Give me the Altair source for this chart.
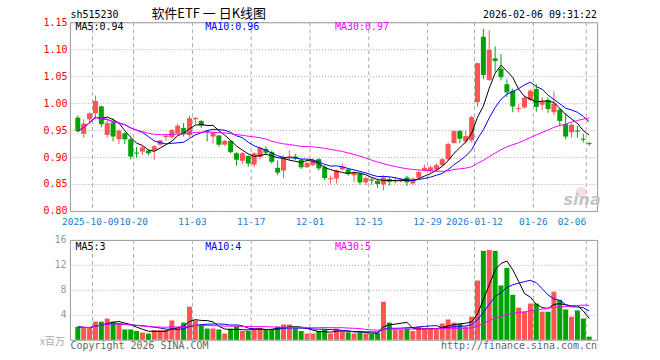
import altair as alt
import pandas as pd
import numpy as np

# ---------------- data ----------------
opens = [0.973,0.943,0.970,0.981,0.994,0.941,0.964,0.933,0.944,0.933,
 0.908,0.910,0.912,0.912,0.923,0.937,0.937,0.944,0.954,0.941,
 0.970,0.967,0.948,0.938,0.940,0.923,0.930,0.907,0.893,0.902,
 0.886,0.900,0.915,0.909,0.880,0.875,0.899,0.901,0.895,0.881,
 0.885,0.896,0.881,0.859,0.860,0.877,0.877,0.866,0.869,0.853,
 0.858,0.856,0.849,0.859,0.855,0.856,0.862,0.851,0.862,0.875,
 0.874,0.877,0.885,0.896,0.926,0.948,0.929,0.931,1.002,1.123,
 1.043,1.083,1.064,1.035,1.023,0.989,0.992,1.006,1.026,0.997,
 1.006,0.983,0.988,0.961,0.946,0.949,0.934,0.926]
highs = [0.977,0.970,0.983,1.014,0.995,0.970,0.972,0.951,0.946,0.936,
 0.919,0.920,0.914,0.922,0.932,0.941,0.952,0.962,0.963,0.977,
 0.974,0.969,0.950,0.947,0.941,0.932,0.931,0.909,0.909,0.903,
 0.909,0.919,0.920,0.912,0.894,0.903,0.912,0.906,0.897,0.891,
 0.897,0.898,0.885,0.866,0.877,0.888,0.879,0.873,0.871,0.864,
 0.862,0.858,0.866,0.863,0.863,0.861,0.865,0.862,0.875,0.886,
 0.884,0.888,0.898,0.927,0.950,0.950,0.949,0.977,1.075,1.138,
 1.135,1.105,1.091,1.044,1.027,0.998,1.014,1.026,1.036,1.011,
 1.010,1.022,0.991,0.981,0.962,0.958,0.943,0.928]
lows = [0.946,0.936,0.965,0.970,0.955,0.936,0.929,0.924,0.924,0.896,
 0.899,0.904,0.903,0.895,0.921,0.930,0.934,0.940,0.938,0.937,
 0.960,0.954,0.929,0.925,0.919,0.921,0.907,0.884,0.887,0.882,
 0.881,0.896,0.905,0.888,0.866,0.861,0.894,0.894,0.878,0.880,
 0.883,0.875,0.857,0.851,0.851,0.875,0.865,0.854,0.849,0.848,
 0.849,0.843,0.838,0.847,0.851,0.852,0.846,0.848,0.860,0.873,
 0.871,0.872,0.883,0.893,0.924,0.926,0.924,0.927,0.993,1.045,
 1.041,1.058,1.042,1.011,0.983,0.983,0.990,1.004,0.984,0.987,
 0.982,0.977,0.957,0.933,0.936,0.936,0.927,0.921]
closes = [0.948,0.962,0.981,1.004,0.961,0.963,0.938,0.949,0.933,0.901,
 0.907,0.918,0.907,0.920,0.931,0.939,0.950,0.958,0.943,0.972,
 0.972,0.958,0.947,0.945,0.923,0.930,0.909,0.895,0.907,0.888,
 0.907,0.917,0.908,0.891,0.871,0.900,0.901,0.897,0.881,0.889,
 0.894,0.879,0.861,0.860,0.875,0.882,0.869,0.871,0.853,0.861,
 0.857,0.850,0.862,0.854,0.857,0.858,0.853,0.860,0.872,0.880,
 0.881,0.885,0.896,0.924,0.948,0.934,0.939,0.974,1.074,1.052,
 1.099,1.078,1.048,1.020,0.994,0.990,1.010,1.023,0.993,1.003,
 0.989,0.999,0.967,0.938,0.960,0.948,0.933,0.925]
volumes = [2.07,1.9,1.9,2.9,2.9,3.4,2.9,2.55,1.65,1.65,
 1.4,1.15,1.0,1.55,1.55,1.55,3.1,1.9,2.75,5.3,
 3.1,2.4,1.8,1.8,1.65,1.0,1.8,2.2,1.4,1.4,
 1.8,1.9,1.65,1.65,2.1,2.45,2.45,1.8,1.4,1.0,
 1.0,1.4,1.65,1.0,1.8,1.4,1.2,1.0,1.2,1.0,
 0.95,1.1,6.1,2.75,1.65,1.65,1.8,1.4,2.1,1.8,
 1.8,1.65,2.6,3.25,2.75,2.55,2.1,3.7,9.5,14.25,
 14.4,14.25,8.7,11.5,7.2,5.15,4.5,5.8,5.8,4.5,
 4.5,7.7,6.4,4.85,3.7,4.7,3.4,0.5]

tick_index = [3, 10, 20, 30, 40, 50, 60, 68, 78, 87]
tick_labels = ["2025-10-09", "10-20", "11-03", "11-17", "12-01",
               "12-15", "12-29", "2026-01-12", "01-26", "02-06"]
price_ticks = [0.80, 0.85, 0.90, 0.95, 1.00, 1.05, 1.10, 1.15]
vol_ticks = [4, 8, 12, 16]

title_text = "软件ETF 一 日K线图"
code_text = "sh515230"
time_text = "2026-02-06 09:31:22"
price_legend = ["MA5:0.94", "MA10:0.96", "MA30:0.97"]
vol_legend = ["MA5:3", "MA10:4", "MA30:5"]

# ---------------- styles ----------------
RED = "#ff5454"
GREEN = "#00a300"
MA_COLORS = ["#000000", "#0000ff", "#ff00ff"]
DATE_COLOR = "#1a80d2"
MONO = "DejaVu Sans Mono"
CJK = "Noto Sans CJK SC"
N = len(closes)
W = 6 * N
PH = 189
VH = 100
LEFT, TOP, GAP = 69.5, 21.5, 29
RIGHT = 660 - LEFT - W
BOTTOM = 360 - TOP - PH - GAP - VH

df = pd.DataFrame({"i": np.arange(N), "open": opens, "high": highs,
                   "low": lows, "close": closes, "vol": volumes})
df["xc"] = df["i"] + 0.5
df["dir"] = np.where(df["close"] >= df["open"], "up", "down")
ticks_df = pd.DataFrame({"ti": tick_index, "label": tick_labels})
one = pd.DataFrame({"k": [0]})

xs = alt.Scale(domain=[0, N], nice=False, zero=False)
color = alt.Color("dir:N", scale=alt.Scale(domain=["up", "down"], range=[RED, GREEN]), legend=None)

py_axis = alt.Axis(values=price_ticks, format=".2f", labelColor="#ff0000", grid=True,
                   gridColor="#aaaaaa", gridDash=[1, 2], domain=False, ticks=False,
                   labelFont=MONO, labelFontSize=10, labelPadding=3, title=None,
                   labelFlush=False, labelOverlap=False)
pys = alt.Scale(domain=[0.80, 1.15], nice=False, zero=False)

vy_axis = alt.Axis(values=vol_ticks, grid=True, gridColor="#aaaaaa", gridDash=[1, 2],
                   domain=False, ticks=False, labelColor="#999999", labelFont=MONO,
                   labelFontSize=10, labelPadding=4, title=None, labelFlush=False,
                   labelOverlap=False)
vys = alt.Scale(domain=[0, 16], nice=False, zero=True)

base = alt.Chart(df)
X = alt.X("xc:Q", scale=xs, axis=None)

vgrid = alt.Chart(ticks_df).mark_rule(color="#aaaaaa", strokeDash=[4, 3], strokeWidth=1).encode(
    x=alt.X("ti:Q", scale=xs, axis=None))

wicks = base.mark_rule(strokeWidth=1).encode(
    x=X, y=alt.Y("low:Q", scale=pys, axis=py_axis), y2="high:Q", color=color)
bodies = base.mark_bar(size=5).encode(
    x=X, y=alt.Y("open:Q", scale=pys, axis=py_axis), y2="close:Q", color=color)
dojis = base.transform_filter("abs(datum.close - datum.open) < 0.0025").mark_tick(
    orient="horizontal", size=5, thickness=1).encode(
    x=X, y=alt.Y("close:Q", scale=pys, axis=py_axis), color=color)


def ma_line(field, n, col, ys, yax):
    return base.transform_window(
        ma=f"mean({field})", frame=[-(n - 1), 0], sort=[alt.SortField("i")]
    ).mark_line(color=col, strokeWidth=1).encode(x=X, y=alt.Y("ma:Q", scale=ys, axis=yax))


price_mas = [ma_line("close", n, c, pys, py_axis) for n, c in zip([5, 10, 30], MA_COLORS)]


def txt(s, x, y, col="#000000", align="left", font=MONO, size=10, **kw):
    return alt.Chart(pd.DataFrame({"t": [s]})).mark_text(
        align=align, baseline="alphabetic", font=font, fontSize=size, color=col, **kw
    ).encode(x=alt.value(x), y=alt.value(y), text="t:N")


# invisible frame rules that pin the outer bounds of the page
frame_top = alt.Chart(one).mark_rule(opacity=0, strokeWidth=0.01).encode(
    x=alt.value(-LEFT), x2=alt.value(W + RIGHT), y=alt.value(-TOP))
frame_bottom = alt.Chart(one).mark_rule(opacity=0, strokeWidth=0.01).encode(
    x=alt.value(-LEFT), x2=alt.value(W + RIGHT), y=alt.value(VH + BOTTOM))

leg_x = [5.5, 135.5, 265.5]
price_texts = [txt(s, x, 8, c) for s, x, c in zip(price_legend, leg_x, MA_COLORS)]
header = [
    txt(code_text, 0.5, -4.5),
    txt(title_text, 139, -4.5, align="center", font=CJK, size=13),
    txt(time_text, W, -4.5, align="right"),
]


def date_layer(cond, align, dx):
    return alt.Chart(ticks_df).transform_filter(cond).mark_text(
        align=align, baseline="alphabetic", font=MONO, fontSize=9.5, color=DATE_COLOR, dx=dx
    ).encode(x=alt.X("ti:Q", scale=xs, axis=None), y=alt.value(203.5), text="label:N")


date_first = date_layer(f"datum.ti == {tick_index[0]}", "center", -2)
date_mid = date_layer(f"datum.ti > {tick_index[0]} && datum.ti < {N - 1}", "center", 0)
date_last = date_layer(f"datum.ti >= {N - 1}", "right", 0)

logo_eye = alt.Chart(one).mark_point(
    shape="circle", size=110, filled=True, color="#f0c4c4", opacity=0.55
).encode(x=alt.value(512), y=alt.value(170))
logo_txt = txt("sina", 513, 183, col="#c4c4c4", align="center", font="DejaVu Sans",
               size=16, fontStyle="italic", fontWeight="bold")

price = alt.layer(frame_top, vgrid, logo_eye, logo_txt, wicks, bodies, dojis, *price_mas,
                  *price_texts, *header, date_first, date_mid, date_last).properties(
    width=W, height=PH)

# ---------------- volume panel ----------------
vbars = base.mark_bar(size=5).encode(
    x=X, y=alt.Y("vol:Q", scale=vys, axis=vy_axis), color=color)
vol_mas = [ma_line("vol", n, c, vys, vy_axis) for n, c in zip([5, 10, 30], MA_COLORS)]
vol_texts = [txt(s, x, 10.5, c) for s, x, c in zip(vol_legend, leg_x, MA_COLORS)]
foot = [
    txt("x百万", -5, 105, col="#aaaaaa", align="right", font=CJK, size=10),
    txt("Copyright 2026 SINA.COM", 0.5, 109.5, col="#666666"),
    txt("http://finance.sina.com.cn", W, 109.5, col="#666666", align="right"),
]
volume = alt.layer(frame_bottom, vgrid, vbars, *vol_mas, *vol_texts, *foot).properties(
    width=W, height=VH)

chart = alt.vconcat(price, volume, spacing=GAP, bounds="flush").properties(
    autosize=alt.AutoSizeParams(type="pad"),
    padding=0,
    background="#ffffff",
).configure_view(stroke="#999999", strokeWidth=1)

chart.save("out.html", embed_options={"renderer": "svg", "actions": False})
